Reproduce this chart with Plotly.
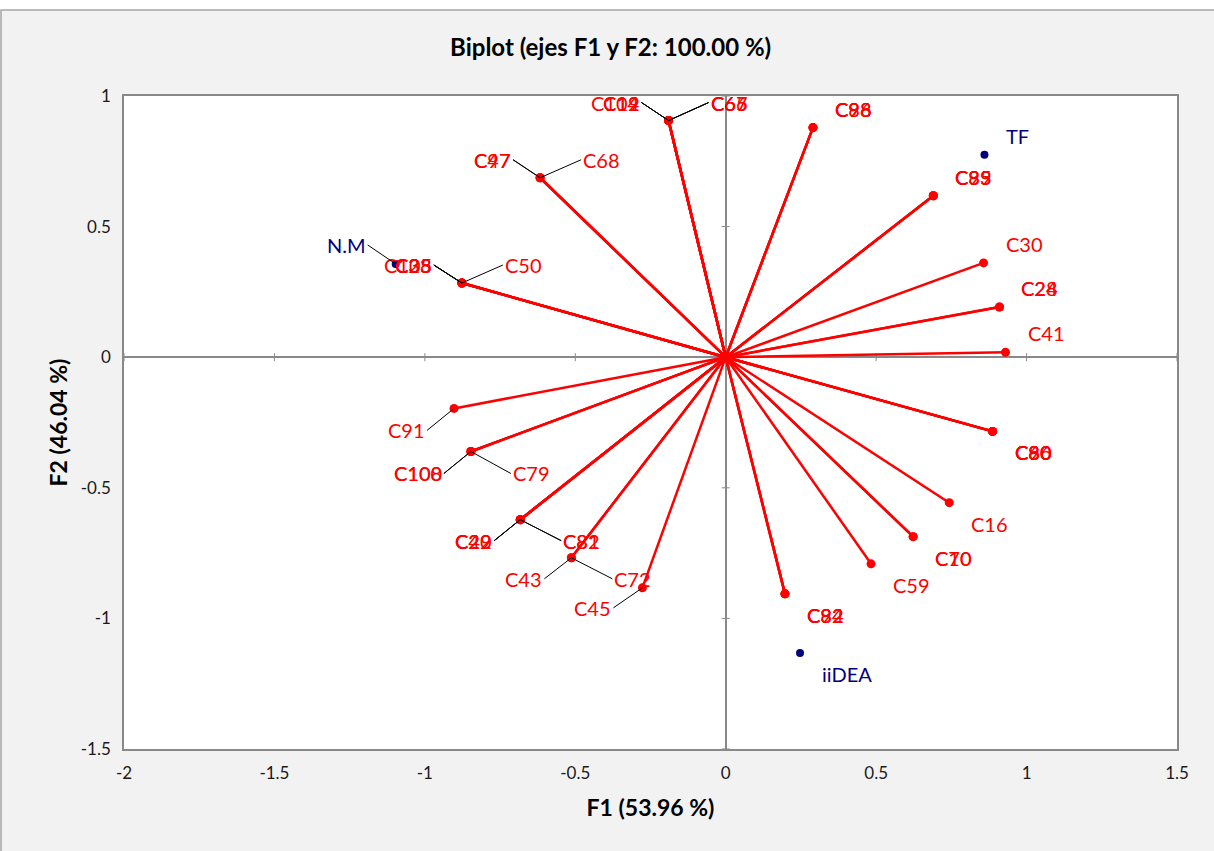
import plotly.graph_objects as go

# variables (red vectors) - coordinates on F1 / F2
var_names = [
    "C104", "C12", "C19", "C65", "C66", "C67",
    "C88", "C96", "C98",
    "C47", "C97", "C68",
    "C105", "C33", "C38", "C25", "C50",
    "C39", "C85", "C93",
    "C30",
    "C24", "C28",
    "C41",
    "C60", "C80", "C86", "C90",
    "C16",
    "C70", "C10",
    "C59",
    "C32", "C84", "C92",
    "C45",
    "C43", "C72",
    "C22", "C29", "C40", "C81", "C82",
    "C100", "C108", "C79",
    "C91",
]
var_f1 = [
    -0.19, -0.19, -0.19, -0.19, -0.19, -0.19,
    0.29, 0.29, 0.29,
    -0.617, -0.617, -0.617,
    -0.877, -0.877, -0.877, -0.877, -0.877,
    0.69, 0.69, 0.69,
    0.857,
    0.91, 0.91,
    0.93,
    0.887, 0.887, 0.887, 0.887,
    0.743,
    0.623, 0.623,
    0.483,
    0.197, 0.197, 0.197,
    -0.277,
    -0.513, -0.513,
    -0.683, -0.683, -0.683, -0.683, -0.683,
    -0.847, -0.847, -0.847,
    -0.903,
]
var_f2 = [
    0.906, 0.906, 0.906, 0.906, 0.906, 0.906,
    0.879, 0.879, 0.879,
    0.687, 0.687, 0.687,
    0.284, 0.284, 0.284, 0.284, 0.284,
    0.618, 0.618, 0.618,
    0.361,
    0.192, 0.192,
    0.019,
    -0.284, -0.284, -0.284, -0.284,
    -0.557,
    -0.687, -0.687,
    -0.791,
    -0.906, -0.906, -0.906,
    -0.883,
    -0.768, -0.768,
    -0.622, -0.622, -0.622, -0.622, -0.622,
    -0.361, -0.361, -0.361,
    -0.196,
]

# observations (blue points)
obs_names = ["N.M", "TF", "iiDEA"]
obs_f1 = [-1.097, 0.86, 0.247]
obs_f2 = [0.357, 0.775, -1.132]

x_tick_vals = [-2, -1.5, -1, -0.5, 0, 0.5, 1, 1.5]
x_tick_text = ["-2", "-1.5", "-1", "-0.5", "0", "0.5", "1", "1.5"]
y_tick_vals = [-1.5, -1, -0.5, 0, 0.5, 1]
y_tick_text = ["-1.5", "-1", "-0.5", "0", "0.5", "1"]

# label placement: labels with a leader line (pixel offsets of the text edge)
leaders = {
    "C104": (-27, -18), "C12": (-27, -18), "C19": (-27, -18),
    "C65": (40, -18), "C66": (40, -18), "C67": (40, -18),
    "C47": (-27, -18), "C97": (-27, -18), "C68": (41, -18),
    "N.M": (-28, -19),
    "C105": (-28, -18), "C33": (-28, -18), "C38": (-28, -18), "C25": (-28, -18),
    "C50": (41, -18),
    "C91": (-27, 22),
    "C100": (-27, 22), "C108": (-27, 22), "C79": (40, 22),
    "C22": (-26, 21), "C29": (-26, 21), "C40": (-26, 21),
    "C81": (41, 21), "C82": (41, 21),
    "C43": (-27, 21), "C72": (41, 21),
    "C45": (-29, 20),
}

RED = "#ff0000"
NAVY = "#000080"
FONT = "Lato"

fig = go.Figure()

# vectors from the origin
line_x, line_y = [], []
for f1, f2 in zip(var_f1, var_f2):
    line_x += [0, f1, None]
    line_y += [0, f2, None]
fig.add_trace(go.Scatter(x=line_x, y=line_y, mode="lines",
                         line=dict(color=RED, width=2.5),
                         hoverinfo="skip", showlegend=False))
fig.add_trace(go.Scatter(x=var_f1, y=var_f2, mode="markers", text=var_names,
                         marker=dict(color=RED, size=9),
                         hoverinfo="text", showlegend=False))
fig.add_trace(go.Scatter(x=obs_f1, y=obs_f2, mode="markers", text=obs_names,
                         marker=dict(color=NAVY, size=8),
                         hoverinfo="text", showlegend=False))


def add_label(name, x, y, color):
    if name in leaders:
        ax, ay = leaders[name]
        fig.add_annotation(x=x, y=y, text=name, showarrow=True,
                           ax=ax, ay=ay, axref="pixel", ayref="pixel",
                           xanchor="right" if ax < 0 else "left",
                           yanchor="middle",
                           arrowhead=0, arrowwidth=1, arrowcolor="black",
                           standoff=0, startstandoff=0,
                           font=dict(family=FONT, size=20, color=color))
    else:
        fig.add_annotation(x=x, y=y, text=name, showarrow=False,
                           xanchor="left", yanchor="middle",
                           xshift=20, yshift=19 if y >= 0 else -21,
                           font=dict(family=FONT, size=20, color=color))


for n, a, b in zip(var_names, var_f1, var_f2):
    add_label(n, a, b, RED)
for n, a, b in zip(obs_names, obs_f1, obs_f2):
    add_label(n, a, b, NAVY)

# tick marks crossing the zero lines
for t in x_tick_vals:
    fig.add_shape(type="line", xref="x", yref="y", x0=t, x1=t,
                  ysizemode="pixel", yanchor=0, y0=-4, y1=4,
                  line=dict(color="#898989", width=1), layer="below")
for t in y_tick_vals:
    fig.add_shape(type="line", xref="x", yref="y", y0=t, y1=t,
                  xsizemode="pixel", xanchor=0, x0=-4, x1=4,
                  line=dict(color="#898989", width=1), layer="below")

W, H = 1214, 851
ML, MR, MT, MB = 124, 37, 96, 102
ph = H - MT - MB
pw = W - ML - MR
# outer frame of the chart area (white strip on top, grey border)
top_y = (H - MB - 10) / ph
left_x = (1 - ML) / pw
fig.add_shape(type="rect", xref="paper", yref="paper",
              x0=-0.2, x1=1.2, y0=top_y, y1=1.3,
              fillcolor="white", line=dict(width=0), layer="above")
fig.add_shape(type="rect", xref="paper", yref="paper",
              x0=left_x, x1=1.2, y0=-0.3, y1=top_y,
              line=dict(color="#a6a6a6", width=1.5), layer="above")

fig.update_layout(
    width=W, height=H,
    margin=dict(l=ML, r=MR, t=MT, b=MB),
    paper_bgcolor="#f2f2f2",
    plot_bgcolor="white",
    font=dict(family=FONT, size=17, color="#1a1a1a"),
    title=dict(text="Biplot (ejes F1 y F2: 100.00 %)",
               x=0.503, xref="container", y=1 - 48 / H, yref="container",
               xanchor="center", yanchor="middle",
               font=dict(family=FONT, size=24, weight=700, color="black")),
    xaxis=dict(range=[-2, 1.5], tickvals=x_tick_vals, ticktext=x_tick_text,
               showgrid=False, zeroline=True, zerolinecolor="#898989",
               zerolinewidth=1.5, showline=True, mirror=True,
               linecolor="#898989", linewidth=1.5, ticks="",
               ticklabelstandoff=8,
               title=dict(text="F1 (53.96 %)", standoff=18,
                          font=dict(family=FONT, size=23, weight=700,
                                    color="black"))),
    yaxis=dict(range=[-1.5, 1], tickvals=y_tick_vals, ticktext=y_tick_text,
               showgrid=False, zeroline=True, zerolinecolor="#898989",
               zerolinewidth=1.5, showline=True, mirror=True,
               linecolor="#898989", linewidth=1.5, ticks="",
               ticklabelstandoff=8,
               title=dict(text="F2 (46.04 %)", standoff=7,
                          font=dict(family=FONT, size=23, weight=700,
                                    color="black"))),
)

fig.write_html("out.html", config=dict(responsive=False, displayModeBar=False),
               post_script="document.body.style.margin='0';"
                           "document.body.style.overflow='hidden';")
